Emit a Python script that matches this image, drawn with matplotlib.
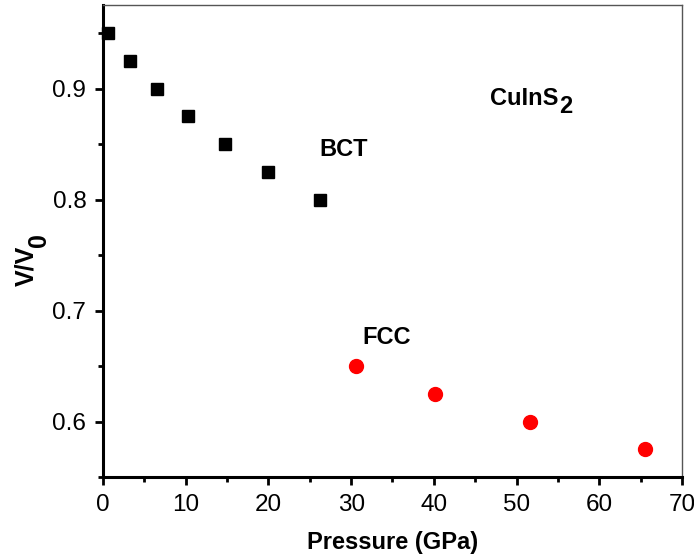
import matplotlib
matplotlib.use('Agg')
import matplotlib.pyplot as plt
from matplotlib.ticker import MultipleLocator

plt.rcParams['font.family'] = ['Liberation Sans', 'DejaVu Sans']

# data
bct_p = [0.6, 3.3, 6.5, 10.3, 14.7, 19.9, 26.2]
bct_v = [0.950, 0.925, 0.900, 0.875, 0.850, 0.825, 0.800]
fcc_p = [30.6, 40.1, 51.6, 65.5]
fcc_v = [0.650, 0.625, 0.600, 0.575]

fig = plt.figure(figsize=(6.94, 5.6), dpi=100)
ax = fig.add_axes([0.1484, 0.1482, 0.8343, 0.8423])

ax.plot(bct_p, bct_v, 's', color='black', markersize=8.5, clip_on=False, zorder=3)
ax.plot(fcc_p, fcc_v, 'o', color='red', markersize=10, clip_on=False, zorder=3)

ax.set_xlim(0, 70)
ax.set_ylim(0.55, 0.975)
ax.xaxis.set_major_locator(MultipleLocator(10))
ax.xaxis.set_minor_locator(MultipleLocator(5))
ax.yaxis.set_major_locator(MultipleLocator(0.1))
ax.yaxis.set_minor_locator(MultipleLocator(0.05))

for s in ['left', 'bottom']:
    ax.spines[s].set_linewidth(2.2)
    ax.spines[s].set_color('black')
for s in ['top', 'right']:
    ax.spines[s].set_linewidth(1.0)
    ax.spines[s].set_color('#555555')

ax.tick_params(which='major', direction='out', length=6, width=2, labelsize=17.5, pad=6)
ax.tick_params(which='minor', direction='out', length=3.5, width=2)
ax.tick_params(top=False, right=False)

ax.set_xlabel('Pressure (GPa)', fontsize=17, fontweight='bold', labelpad=11)

# y label built from pieces so the subscript stays large like the original
fig.text(26 / 694, 1 - 286 / 560, 'V/V', rotation=90, ha='center', va='bottom',
         fontsize=18, fontweight='bold')
fig.text(39 / 694, 1 - 247 / 560, '0', rotation=90, ha='center', va='bottom',
         fontsize=18, fontweight='bold')

ax.text(26.1, 0.8388, 'BCT', fontsize=17, fontweight='bold')
ax.text(31.4, 0.670, 'FCC', fontsize=17, fontweight='bold')
t = ax.text(46.8, 0.8855, 'CuInS', fontsize=17, fontweight='bold')
ax.annotate('2', xy=(1, 0), xycoords=t, xytext=(1, -3), textcoords='offset pixels',
            ha='left', va='baseline', fontsize=17, fontweight='bold')

fig.savefig('out.png', dpi=100)
